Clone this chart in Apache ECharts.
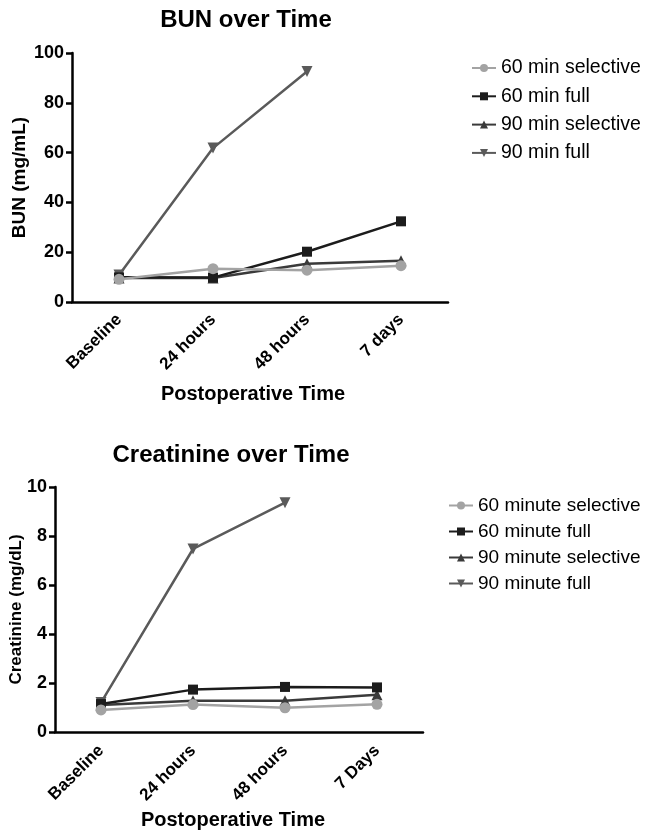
<!DOCTYPE html>
<html><head><meta charset="utf-8">
<script src="https://cdn.jsdelivr.net/npm/echarts@6/dist/echarts.min.js"></script>
<style>html,body{margin:0;padding:0;background:#fff}#c{width:645px;height:832px}</style>
</head><body><div id="c"></div>
<script>
const categoriesTop = ['Baseline', '24 hours', '48 hours', '7 days'];
const categoriesBottom = ['Baseline', '24 hours', '48 hours', '7 Days'];
const bunNames = ['60 min selective', '60 min full', '90 min selective', '90 min full'];
const creNames = ['60 minute selective', '60 minute full', '90 minute selective', '90 minute full'];
const bun60Sel = [9.1, 13.4, 12.8, 14.6];
const bun60Full = [9.9, 9.8, 20.2, 32.4];
const bun90Sel = [9.6, 9.6, 15.4, 16.6];
const bun90Full = [10.8, 61.8, 92.6, null];
const cre60Sel = [0.9, 1.12, 0.99, 1.13];
const cre60Full = [1.14, 1.73, 1.84, 1.82];
const cre90Sel = [1.1, 1.28, 1.28, 1.52];
const cre90Full = [1.2, 7.47, 9.36, null];
const bunTicks = [0, 20, 40, 60, 80, 100];
const creTicks = [0, 2, 4, 6, 8, 10];

const FONT = 'Liberation Sans';
const colors = ['#a3a3a3', '#1c1c1c', '#3a3a3a', '#5a5a5a'];
const symbols = ['circle', 'rect', 'triangle', 'triangle'];
const rots = [0, 0, 0, 180];

function mkSeries(names, datas, gi) {
  return datas.map((d, i) => ({
    name: names[i], type: 'line', xAxisIndex: gi, yAxisIndex: gi, data: d,
    symbol: symbols[i], symbolRotate: rots[i], symbolSize: i === 1 ? 10 : 11,
    lineStyle: { color: colors[i], width: 2.5 },
    itemStyle: { color: colors[i] },
    z: 10 - i, animation: false, connectNulls: false
  }));
}

const axisCommonX = (cats, name, nameGap, shift, margin) => ({
  type: 'category', data: cats, boundaryGap: true,
  axisLine: { lineStyle: { color: '#000', width: 2.5 } },
  axisTick: { alignWithLabel: true, length: 6, lineStyle: { color: '#000', width: 2.5 } },
  axisLabel: { rotate: 45, color: '#000', fontFamily: FONT, fontWeight: 'bold', fontSize: 17, margin: margin },
  name: name, nameLocation: 'middle', nameGap: nameGap, nameMoveOverlap: false,
  nameTextStyle: { color: '#000', fontFamily: FONT, fontWeight: 'bold', fontSize: 20, padding: [0, shift, 0, 0] }
});
const axisCommonY = (max, interval, name, nameGap, nameSize) => ({
  type: 'value', min: 0, max: max, interval: interval,
  splitLine: { show: false },
  axisLine: { show: true, lineStyle: { color: '#000', width: 2.5 } },
  axisTick: { show: true, length: 6, lineStyle: { color: '#000', width: 2.5 } },
  axisLabel: { color: '#000', fontFamily: FONT, fontWeight: 'bold', fontSize: 18, margin: 8 },
  name: name, nameLocation: 'middle', nameGap: nameGap, nameRotate: 90, nameMoveOverlap: false,
  nameTextStyle: { color: '#000', fontFamily: FONT, fontWeight: 'bold', fontSize: nameSize }
});

const chart = echarts.init(document.getElementById('c'));
chart.setOption({
  backgroundColor: '#fff',
  animation: false,
  title: [
    { text: 'BUN over Time', left: 241, top: 3, textAlign: 'center',
      textStyle: { fontFamily: FONT, fontWeight: 'bold', fontSize: 24, color: '#000' } },
    { text: 'Creatinine over Time', left: 226, top: 438, textAlign: 'center',
      textStyle: { fontFamily: FONT, fontWeight: 'bold', fontSize: 24, color: '#000' } }
  ],
  legend: [
    { data: bunNames, orient: 'vertical', left: 466, top: 53, itemGap: 8.3, itemWidth: 24, itemHeight: 10,
      textStyle: { fontFamily: FONT, fontSize: 19.5, color: '#000' } },
    { data: creNames, orient: 'vertical', left: 443, top: 491, itemGap: 7, itemWidth: 24, itemHeight: 10,
      textStyle: { fontFamily: FONT, fontSize: 19, color: '#000' } }
  ],
  grid: [
    { left: 72, top: 53, width: 376, height: 249, outerBoundsMode: 'none', containLabel: false },
    { left: 55, top: 487, width: 368, height: 245, outerBoundsMode: 'none', containLabel: false }
  ],
  xAxis: [
    Object.assign(axisCommonX(categoriesTop, 'Postoperative Time', 82, 14, 15), { gridIndex: 0 }),
    Object.assign(axisCommonX(categoriesBottom, 'Postoperative Time', 78, 12, 16), { gridIndex: 1 })
  ],
  yAxis: [
    Object.assign(axisCommonY(bunTicks[bunTicks.length - 1], bunTicks[1] - bunTicks[0], 'BUN (mg/mL)', 43, 19), { gridIndex: 0 }),
    Object.assign(axisCommonY(creTicks[creTicks.length - 1], creTicks[1] - creTicks[0], 'Creatinine (mg/dL)', 30, 17), { gridIndex: 1 })
  ],
  series: [].concat(
    mkSeries(bunNames, [bun60Sel, bun60Full, bun90Sel, bun90Full], 0),
    mkSeries(creNames, [cre60Sel, cre60Full, cre90Sel, cre90Full], 1)
  )
});
</script></body></html>
